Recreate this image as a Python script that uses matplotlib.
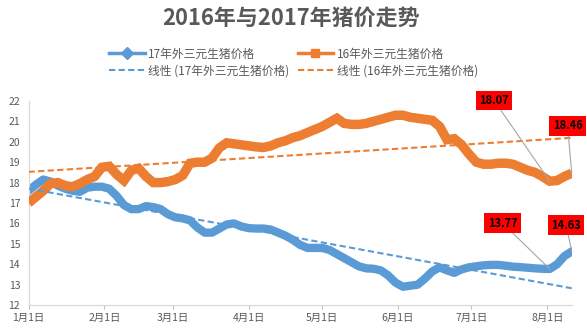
import matplotlib
matplotlib.use('Agg')
import matplotlib.pyplot as plt
from matplotlib.lines import Line2D
import numpy as np

plt.rcParams['font.family'] = ['Noto Sans CJK SC', 'DejaVu Sans']

# days since Jan 1, one reading every 3 days
days = list(range(0, 223, 3))

price_17 = [17.6, 17.9, 18.15, 18.05, 17.85, 17.7, 17.6, 17.55, 17.75, 17.8,
            17.8, 17.7, 17.35, 16.9, 16.7, 16.7, 16.85, 16.8, 16.7, 16.45,
            16.3, 16.25, 16.15, 15.8, 15.55, 15.55, 15.75, 15.95, 16.0, 15.85,
            15.77, 15.75, 15.75, 15.7, 15.55, 15.4, 15.2, 14.95, 14.8, 14.8,
            14.8, 14.7, 14.5, 14.3, 14.1, 13.9, 13.8, 13.78, 13.7, 13.45,
            13.1, 12.9, 12.95, 13.0, 13.3, 13.65, 13.85, 13.7, 13.58, 13.75,
            13.85, 13.9, 13.95, 13.97, 13.97, 13.93, 13.88, 13.86, 13.83, 13.8,
            13.78, 13.77, 14.0, 14.4, 14.63]

price_16 = [17.0, 17.3, 17.6, 17.95, 18.0, 17.85, 17.8, 17.95, 18.15, 18.3,
            18.75, 18.8, 18.4, 18.1, 18.6, 18.7, 18.3, 18.0, 18.0, 18.05,
            18.15, 18.35, 18.95, 19.0, 19.0, 19.2, 19.7, 19.95, 19.9, 19.85,
            19.8, 19.75, 19.72, 19.8, 19.95, 20.05, 20.2, 20.3, 20.45, 20.6,
            20.75, 20.95, 21.15, 20.9, 20.85, 20.85, 20.9, 21.0, 21.1, 21.2,
            21.3, 21.3, 21.2, 21.15, 21.1, 21.05, 20.75, 20.1, 20.15, 19.85,
            19.4, 19.0, 18.9, 18.9, 18.95, 18.95, 18.9, 18.75, 18.6, 18.5,
            18.3, 18.07, 18.1, 18.3, 18.46]

month_days = [0, 31, 59, 90, 120, 151, 181, 212]
month_labels = ['1月1日', '2月1日', '3月1日', '4月1日', '5月1日', '6月1日', '7月1日', '8月1日']

label_day = 213

blue = '#5B9BD5'
orange = '#ED7D31'
grey_txt = '#595959'

fig = plt.figure(figsize=(5.87, 3.32), dpi=100)
ax = fig.add_axes([0.0486, 0.081, 0.9254, 0.615])

x = np.array(days)
ax.plot(x, price_17, color=blue, lw=6, solid_joinstyle='round', solid_capstyle='round', zorder=2)
ax.plot(x, price_16, color=orange, lw=6.8, solid_joinstyle='miter', solid_capstyle='butt', zorder=3)

# linear trendlines
for y, c in [(price_17, blue), (price_16, orange)]:
    k, b = np.polyfit(x, y, 1)
    ax.plot(x, k * x + b, color=c, lw=1.5, dashes=(3, 1.6), zorder=4)

ax.set_xlim(0, 222)
ax.set_ylim(12, 22)
ax.set_yticks(range(12, 23))
ax.set_xticks(month_days)
ax.set_xticklabels(month_labels)
ax.tick_params(axis='y', length=0, pad=6, labelsize=7.5, labelcolor=grey_txt)
ax.tick_params(axis='x', length=3, width=0.8, color='#BFBFBF', pad=3, labelsize=7.5, labelcolor=grey_txt)
for s in ['top', 'right']:
    ax.spines[s].set_visible(False)
for s in ['left', 'bottom']:
    ax.spines[s].set_color('#D9D9D9')
    ax.spines[s].set_linewidth(0.9)

# data labels
i_lab = days.index(label_day)
labels = [(price_16, i_lab, (-40, 58)), (price_16, -1, (-3, 34)),
          (price_17, i_lab, (-34, 33)), (price_17, -1, (-4, 19))]
for ser, i, off in labels:
    ax.annotate(f'{ser[i]:.2f}', xy=(days[i], ser[i]), xytext=off, textcoords='offset points',
                ha='center', va='center', fontsize=8, fontweight='bold', color='black',
                bbox=dict(boxstyle='square,pad=0.3', fc='#FF0000', ec='none'),
                arrowprops=dict(arrowstyle='-', color='#A6A6A6', lw=0.8, shrinkA=0, shrinkB=0),
                annotation_clip=False, zorder=6)

fig.text(0.495, 0.946, '2016年与2017年猪价走势', ha='center', va='center',
         fontsize=15.8, fontweight='bold', color=grey_txt)

handles = [
    Line2D([], [], color=blue, lw=2.5, marker='D', markersize=6),
    Line2D([], [], color=blue, lw=1.5, dashes=(3, 1.6)),
    Line2D([], [], color=orange, lw=2.5, marker='s', markersize=6),
    Line2D([], [], color=orange, lw=1.5, dashes=(3, 1.6)),
]
names = ['17年外三元生猪价格', '线性 (17年外三元生猪价格)',
         '16年外三元生猪价格', '线性 (16年外三元生猪价格)']
fig.legend(handles, names, loc='center', bbox_to_anchor=(0.5, 0.812), ncol=2,
           frameon=False, fontsize=8.5, labelcolor=grey_txt, handlelength=3.0,
           handletextpad=0.3, columnspacing=0.7, labelspacing=0.35)

fig.savefig('out.png', dpi=100)
